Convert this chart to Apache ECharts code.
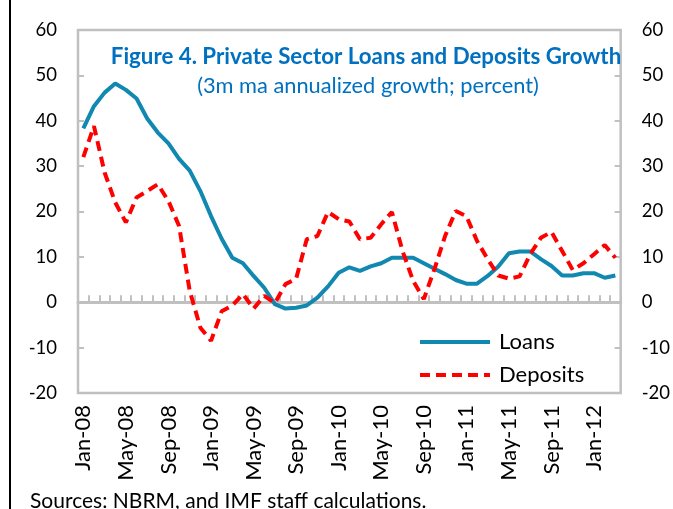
<!DOCTYPE html>
<html>
<head>
<meta charset="utf-8">
<script src="https://cdn.jsdelivr.net/npm/echarts@6/dist/echarts.min.js"></script>
<style>
  html, body { margin: 0; padding: 0; background: #fff; }
  #chart { width: 673px; height: 509px; }
</style>
</head>
<body>
<div id="chart"></div>
<script>
// monthly, Jan-08 .. Mar-12
const months = [
  'Jan-08', 'Feb-08', 'Mar-08', 'Apr-08', 'May-08', 'Jun-08', 'Jul-08', 'Aug-08', 'Sep-08', 'Oct-08', 'Nov-08', 'Dec-08',
  'Jan-09', 'Feb-09', 'Mar-09', 'Apr-09', 'May-09', 'Jun-09', 'Jul-09', 'Aug-09', 'Sep-09', 'Oct-09', 'Nov-09', 'Dec-09',
  'Jan-10', 'Feb-10', 'Mar-10', 'Apr-10', 'May-10', 'Jun-10', 'Jul-10', 'Aug-10', 'Sep-10', 'Oct-10', 'Nov-10', 'Dec-10',
  'Jan-11', 'Feb-11', 'Mar-11', 'Apr-11', 'May-11', 'Jun-11', 'Jul-11', 'Aug-11', 'Sep-11', 'Oct-11', 'Nov-11', 'Dec-11',
  'Jan-12', 'Feb-12', 'Mar-12'
]
const loans = [
  38.3, 43.2, 46.2, 48.2, 46.8, 44.9, 40.5, 37.4, 35.0, 31.6, 29.0, 24.5,
  19.0, 14.0, 9.8, 8.6, 5.8, 3.2, -0.4, -1.4, -1.2, -0.7, 1.0, 3.5,
  6.5, 7.7, 6.9, 7.9, 8.6, 9.8, 9.8, 9.8, 8.6, 7.4, 6.2, 4.9,
  4.1, 4.1, 5.8, 7.9, 10.8, 11.2, 11.2, 9.5, 8.0, 5.9, 5.9, 6.4,
  6.4, 5.4, 5.9
]
const deposits = [
  32.0, 38.8, 28.6, 22.0, 17.6, 23.1, 24.5, 26.0, 22.3, 16.8, 2.5, -5.6,
  -8.5, -2.0, -0.7, 1.8, -1.4, 1.4, -0.2, 4.0, 5.2, 13.9, 14.6, 19.9,
  18.3, 17.8, 13.9, 14.2, 17.2, 19.9, 11.3, 4.7, 0.7, 7.3, 14.6, 20.1,
  19.0, 13.5, 9.5, 5.9, 5.2, 5.7, 10.6, 14.2, 15.5, 11.3, 7.1, 8.6,
  10.6, 12.6, 9.8
]
const yMin = -20
const yMax = 60
const yStep = 10

const FONT = 'Lato, "Open Sans", sans-serif'
const gray = '#c0c0c0'

const myChart = echarts.init(document.getElementById('chart'))

const yAxisBase = {
  type: 'value',
  min: yMin,
  max: yMax,
  interval: yStep,
  axisLine: { show: false },
  axisTick: { show: true, inside: true, length: 6, lineStyle: { color: gray, width: 2 } },
  splitLine: { show: false },
  axisLabel: { color: '#000', fontSize: 18.5, fontFamily: FONT, margin: 21 },
}

myChart.setOption({
  animation: false,
  backgroundColor: '#fff',
  grid: {
    left: 78,
    right: 52,
    top: 30,
    bottom: 116,
    show: true,
    borderColor: gray,
    borderWidth: 2.5,
  },
  legend: {
    orient: 'vertical',
    left: 418,
    top: 331,
    padding: 0,
    icon: 'inherit',
    itemWidth: 70,
    itemHeight: 14,
    itemGap: 11,
    itemStyle: { opacity: 0 },
    lineStyle: { width: 4 },
    textStyle: { color: '#000', fontSize: 22, lineHeight: 20, fontFamily: FONT, padding: [0, 0, 0, 4] },
    data: ['Loans', 'Deposits'],
  },
  xAxis: [
    {
      // zero line with the month ticks
      type: 'category',
      data: months,
      position: 'top',
      boundaryGap: true,
      axisLine: { show: true, onZero: true, lineStyle: { color: gray, width: 3 } },
      axisTick: { show: true, inside: false, length: 7, interval: 0, lineStyle: { color: gray, width: 2 } },
      axisLabel: { show: false },
      splitLine: { show: false },
    },
    {
      // month labels along the bottom
      type: 'category',
      data: months,
      position: 'bottom',
      boundaryGap: true,
      axisLine: { show: false, onZero: false },
      axisTick: { show: false },
      axisLabel: { interval: 3, rotate: 90, color: '#000', fontSize: 22, fontFamily: FONT, margin: 12 },
      splitLine: { show: false },
    },
  ],
  yAxis: [
    Object.assign({}, yAxisBase, { position: 'left' }),
    Object.assign({}, yAxisBase, { position: 'right' }),
  ],
  series: [
    {
      name: 'Loans',
      type: 'line',
      xAxisIndex: 0,
      yAxisIndex: 0,
      symbol: 'none',
      data: loans,
      itemStyle: { color: '#1188b0' },
      lineStyle: { color: '#1188b0', width: 4 },
    },
    {
      name: 'Deposits',
      type: 'line',
      xAxisIndex: 0,
      yAxisIndex: 0,
      symbol: 'none',
      data: deposits,
      itemStyle: { color: '#ff0000' },
      lineStyle: { color: '#ff0000', width: 4, type: [10, 6] },
    },
  ],
  graphic: [
    {
      type: 'line',
      shape: { x1: 10, y1: 0, x2: 10, y2: 509 },
      style: { stroke: '#000', lineWidth: 2 },
    },
    {
      type: 'text',
      x: 366,
      y: 57,
      style: {
        text: 'Figure 4. Private Sector Loans and Deposits Growth',
        fill: '#0070c0',
        font: 'bold 22.3px ' + FONT,
        textAlign: 'center',
        textVerticalAlign: 'middle',
      },
    },
    {
      type: 'text',
      x: 368,
      y: 86,
      style: {
        text: '(3m ma annualized growth; percent)',
        fill: '#0070c0',
        font: '21.8px ' + FONT,
        textAlign: 'center',
        textVerticalAlign: 'middle',
      },
    },
    {
      type: 'text',
      x: 30,
      y: 501,
      style: {
        text: 'Sources: NBRM, and IMF staff calculations.',
        fill: '#000',
        font: '21px ' + FONT,
        textAlign: 'left',
        textVerticalAlign: 'middle',
      },
    },
  ],
})
</script>
</body>
</html>
